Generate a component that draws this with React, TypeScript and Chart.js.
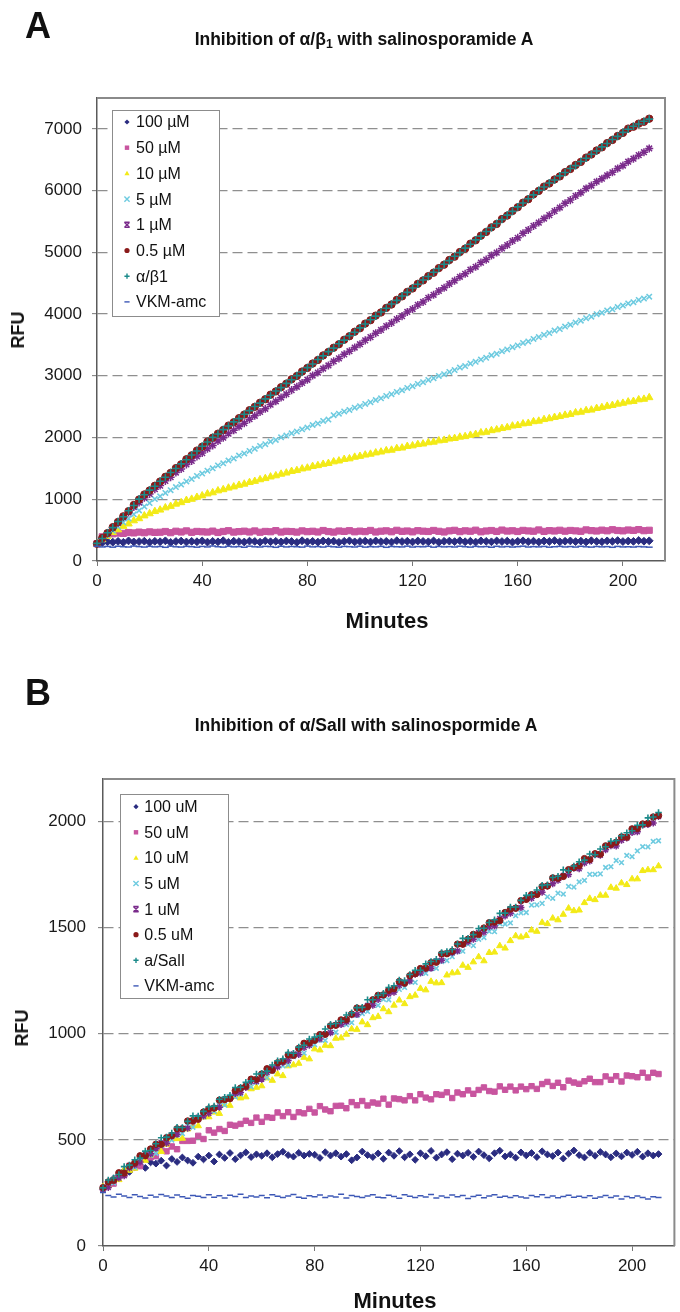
import React, { useEffect, useRef } from 'react';
import { Chart, registerables } from 'chart.js';

Chart.register(...registerables);

const FONT = '"Liberation Sans", Arial, Helvetica, sans-serif';

// ---------- shared x values (minutes) ----------
const MINUTES = [
  0, 2, 4, 6, 8, 10, 12, 14, 16, 18,
  20, 22, 24, 26, 28, 30, 32, 34, 36, 38,
  40, 42, 44, 46, 48, 50, 52, 54, 56, 58,
  60, 62, 64, 66, 68, 70, 72, 74, 76, 78,
  80, 82, 84, 86, 88, 90, 92, 94, 96, 98,
  100, 102, 104, 106, 108, 110, 112, 114, 116, 118,
  120, 122, 124, 126, 128, 130, 132, 134, 136, 138,
  140, 142, 144, 146, 148, 150, 152, 154, 156, 158,
  160, 162, 164, 166, 168, 170, 172, 174, 176, 178,
  180, 182, 184, 186, 188, 190, 192, 194, 196, 198,
  200, 202, 204, 206, 208, 210,
];
const X_TICKS = [0, 40, 80, 120, 160, 200];

// ---------- Panel A: alpha/beta1 ----------
const A_TITLE = 'Inhibition of α/β';
const A_LABELS = ['100 µM', '50 µM', '10 µM', '5 µM', '1 µM', '0.5 µM', 'α/β1', 'VKM-amc'];
const A_Y_TICKS = [0, 1000, 2000, 3000, 4000, 5000, 6000, 7000];

const A_100 = [
  280, 298, 311, 305, 318, 302, 326, 309, 315, 321,
  304, 319, 312, 327, 301, 316, 323, 308, 318, 312,
  325, 306, 317, 311, 329, 303, 320, 314, 308, 322,
  317, 305, 326, 312, 319, 309, 323, 316, 302, 328,
  311, 318, 306, 324, 315, 321, 303, 319, 327, 310,
  316, 322, 308, 325, 313, 318, 306, 329, 315, 320,
  309, 324, 317, 311, 326, 304, 319, 322, 314, 328,
  312, 320, 307, 326, 318, 311, 325, 315, 322, 306,
  319, 327, 313, 321, 308, 324, 316, 330, 311, 320,
  325, 314, 322, 309, 328, 317, 312, 326, 319, 331,
  315, 323, 318, 332, 320, 327,
];
const A_50 = [
  280, 392, 428, 441, 452, 447, 461, 455, 468, 458,
  472, 463, 466, 478, 459, 482, 470, 488, 465, 479,
  473, 469, 484, 462, 478, 491, 468, 476, 483, 470,
  487, 466, 479, 474, 492, 469, 481, 477, 468, 488,
  475, 482, 470, 494, 477, 468, 486, 479, 491, 473,
  484, 476, 495, 470, 483, 489, 474, 497, 480, 486,
  472, 491, 483, 478, 495, 481, 470, 488, 497, 476,
  489, 482, 499, 473, 486, 494, 479, 501, 485, 490,
  478, 496, 487, 482, 503, 479, 492, 486, 498, 483,
  495, 488, 481, 504, 492, 486, 500, 489, 507, 494,
  488, 502, 495, 509, 491, 498,
];
const A_10 = [
  280, 347, 402, 463, 507, 563, 602, 653, 687, 733,
  767, 803, 827, 863, 887, 923, 947, 983, 1002, 1033,
  1057, 1088, 1107, 1138, 1157, 1183, 1202, 1228, 1247, 1273,
  1292, 1318, 1337, 1363, 1382, 1408, 1427, 1453, 1467, 1493,
  1507, 1533, 1547, 1568, 1582, 1608, 1622, 1648, 1657, 1683,
  1697, 1718, 1732, 1753, 1767, 1788, 1797, 1823, 1832, 1858,
  1867, 1888, 1897, 1918, 1927, 1948, 1957, 1978, 1987, 2008,
  2017, 2038, 2052, 2078, 2087, 2113, 2127, 2148, 2162, 2188,
  2197, 2223, 2232, 2258, 2267, 2293, 2307, 2328, 2342, 2363,
  2377, 2403, 2412, 2438, 2447, 2473, 2487, 2508, 2522, 2543,
  2557, 2578, 2587, 2613, 2622, 2648,
];
const A_5 = [
  280, 352, 418, 492, 553, 627, 688, 757, 818, 882,
  938, 1003, 1048, 1103, 1147, 1198, 1238, 1288, 1327, 1378,
  1417, 1463, 1502, 1548, 1582, 1628, 1662, 1708, 1742, 1783,
  1817, 1863, 1892, 1934, 1962, 2003, 2032, 2068, 2097, 2133,
  2162, 2203, 2227, 2268, 2292, 2362, 2387, 2423, 2447, 2483,
  2507, 2544, 2572, 2608, 2636, 2673, 2702, 2738, 2766, 2803,
  2832, 2868, 2897, 2933, 2962, 2998, 3027, 3063, 3092, 3133,
  3157, 3198, 3227, 3263, 3292, 3333, 3357, 3398, 3427, 3463,
  3492, 3533, 3557, 3598, 3627, 3663, 3692, 3733, 3757, 3798,
  3827, 3863, 3892, 3933, 3957, 3998, 4022, 4058, 4077, 4113,
  4137, 4173, 4192, 4228, 4252, 4282,
];
const A_1 = [
  280, 368, 447, 538, 616, 709, 786, 874, 947, 1024,
  1087, 1163, 1222, 1298, 1357, 1433, 1492, 1564, 1622, 1694,
  1748, 1818, 1872, 1943, 1997, 2064, 2117, 2178, 2232, 2298,
  2352, 2414, 2466, 2534, 2587, 2648, 2702, 2768, 2822, 2884,
  2936, 3004, 3052, 3118, 3167, 3234, 3282, 3348, 3398, 3458,
  3512, 3574, 3626, 3690, 3742, 3804, 3857, 3918, 3967, 4034,
  4082, 4148, 4196, 4263, 4312, 4374, 4426, 4488, 4542, 4604,
  4652, 4718, 4766, 4834, 4882, 4948, 4996, 5064, 5118, 5184,
  5236, 5308, 5362, 5428, 5482, 5548, 5602, 5668, 5726, 5794,
  5846, 5914, 5966, 6034, 6082, 6144, 6192, 6248, 6296, 6358,
  6406, 6468, 6516, 6574, 6622, 6682,
];
const A_05 = [
  280, 372, 452, 548, 633, 724, 808, 907, 996, 1078,
  1142, 1219, 1287, 1364, 1427, 1505, 1566, 1648, 1712, 1789,
  1852, 1934, 1997, 2063, 2122, 2194, 2247, 2314, 2372, 2443,
  2497, 2564, 2621, 2694, 2747, 2815, 2872, 2944, 2996, 3069,
  3127, 3199, 3256, 3330, 3386, 3455, 3511, 3584, 3641, 3714,
  3770, 3846, 3900, 3975, 4026, 4100, 4155, 4230, 4286, 4360,
  4415, 4490, 4545, 4615, 4670, 4745, 4800, 4876, 4930, 5005,
  5060, 5140, 5195, 5270, 5330, 5405, 5460, 5540, 5595, 5670,
  5730, 5805, 5860, 5940, 5995, 6065, 6115, 6180, 6230, 6300,
  6350, 6415, 6465, 6535, 6585, 6650, 6700, 6770, 6820, 6885,
  6935, 7005, 7035, 7085, 7115, 7165,
];
const A_AB = [
  285, 365, 458, 540, 640, 718, 815, 900, 1003, 1072,
  1148, 1212, 1293, 1357, 1433, 1498, 1573, 1641, 1718, 1782,
  1858, 1927, 2003, 2057, 2128, 2187, 2253, 2307, 2378, 2436,
  2503, 2557, 2627, 2686, 2753, 2808, 2878, 2937, 3003, 3062,
  3133, 3192, 3263, 3322, 3392, 3448, 3518, 3578, 3648, 3706,
  3777, 3838, 3908, 3967, 4033, 4094, 4162, 4221, 4292, 4352,
  4422, 4482, 4552, 4608, 4678, 4737, 4807, 4865, 4937, 4995,
  5068, 5132, 5202, 5262, 5337, 5398, 5467, 5532, 5602, 5664,
  5737, 5798, 5867, 5930, 6003, 6058, 6122, 6172, 6238, 6292,
  6358, 6405, 6472, 6525, 6588, 6642, 6708, 6762, 6828, 6878,
  6943, 6995, 7043, 7078, 7123, 7158,
];
const A_VKM = [
  240, 228, 236, 224, 239, 231, 227, 242, 233, 226,
  238, 229, 235, 222, 241, 230, 226, 237, 232, 224,
  236, 228, 243, 231, 225, 238, 229, 234, 223, 240,
  230, 227, 237, 233, 222, 239, 228, 235, 231, 225,
  241, 229, 234, 226, 238, 230, 224, 236, 232, 227,
  239, 225, 233, 229, 237, 222, 235, 231, 228, 240,
  226, 234, 230, 238, 224, 236, 229, 233, 227, 239,
  231, 225, 237, 230, 234, 223, 238, 228, 235, 226,
  232, 240, 227, 233, 229, 236, 224, 231, 237, 228,
  234, 226, 238, 230, 225, 235, 229, 233, 222, 236,
  228, 231, 226, 234, 229, 224,
];

// ---------- Panel B: alpha/SalI ----------
const B_TITLE = 'Inhibition of α/SalI with salinospormide A';
const B_LABELS = ['100 uM', '50 uM', '10 uM', '5 uM', '1 uM', '0.5 uM', 'a/SalI', 'VKM-amc'];
const B_Y_TICKS = [0, 500, 1000, 1500, 2000];

const B_100 = [
  268, 292, 318, 331, 356, 349, 372, 381, 368, 394,
  388, 402, 379, 410, 396, 417, 403, 392, 421, 408,
  426, 398, 431, 415, 438, 409, 427, 441, 419, 432,
  425, 437, 418, 433, 444, 428, 421, 439, 426, 434,
  430, 415, 442, 426, 437, 421, 433, 404, 417, 445,
  428, 419, 436, 411, 440, 425, 447, 418, 432, 406,
  437, 423, 448, 416, 431, 442, 409, 435, 426, 439,
  420, 445, 428, 413, 437, 449, 422, 431, 416, 441,
  427, 438, 419, 446, 431, 424, 440, 412, 435, 450,
  428, 417, 439, 425, 443, 431, 418, 436, 422, 440,
  429, 444, 421, 437, 426, 433,
];
const B_50 = [
  273, 297, 294, 337, 335, 378, 371, 376, 411, 418,
  423, 458, 446, 469, 456, 495, 495, 496, 519, 504,
  545, 534, 551, 542, 571, 567, 575, 590, 580, 605,
  585, 607, 604, 629, 612, 630, 608, 630, 625, 646,
  629, 659, 643, 635, 660, 661, 649, 678, 663, 683,
  662, 676, 671, 694, 666, 695, 692, 686, 706, 686,
  715, 699, 691, 715, 712, 724, 697, 723, 715, 733,
  717, 735, 747, 730, 727, 752, 736, 751, 733, 751,
  739, 753, 740, 763, 773, 754, 769, 748, 779, 770,
  764, 776, 788, 772, 772, 799, 783, 800, 775, 803,
  800, 795, 816, 794, 816, 810,
];
const B_10 = [
  278, 284, 314, 312, 360, 356, 366, 408, 403, 428,
  453, 445, 479, 506, 505, 507, 551, 566, 566, 607,
  608, 630, 624, 666, 662, 704, 697, 702, 740, 747,
  754, 791, 780, 810, 802, 848, 853, 860, 888, 881,
  928, 923, 945, 943, 978, 980, 997, 1022, 1020, 1055,
  1042, 1075, 1081, 1117, 1103, 1134, 1158, 1141, 1174, 1181,
  1213, 1206, 1246, 1239, 1240, 1276, 1286, 1289, 1322, 1312,
  1338, 1362, 1343, 1382, 1384, 1414, 1403, 1438, 1461, 1455,
  1462, 1488, 1482, 1524, 1518, 1544, 1536, 1562, 1591, 1579,
  1582, 1617, 1637, 1631, 1652, 1652, 1689, 1685, 1710, 1702,
  1729, 1729, 1768, 1772, 1772, 1790,
];
const B_5 = [
  272, 297, 298, 341, 342, 371, 371, 399, 431, 428,
  437, 473, 495, 499, 523, 530, 567, 559, 597, 608,
  634, 634, 662, 664, 704, 703, 715, 752, 750, 772,
  796, 792, 823, 846, 849, 853, 892, 906, 909, 946,
  949, 970, 969, 1007, 1007, 1046, 1043, 1052, 1086, 1095,
  1105, 1139, 1134, 1162, 1160, 1200, 1209, 1218, 1245, 1242,
  1284, 1285, 1306, 1308, 1340, 1345, 1363, 1387, 1389, 1422,
  1415, 1445, 1453, 1482, 1481, 1519, 1517, 1522, 1556, 1569,
  1571, 1606, 1607, 1614, 1645, 1638, 1662, 1658, 1694, 1691,
  1715, 1722, 1751, 1751, 1753, 1783, 1787, 1816, 1806, 1840,
  1834, 1861, 1881, 1880, 1906, 1909,
];
const B_1 = [
  266, 276, 312, 320, 331, 367, 382, 396, 429, 434,
  461, 487, 484, 517, 527, 553, 555, 585, 607, 612,
  625, 649, 654, 690, 694, 719, 723, 747, 775, 776,
  786, 817, 838, 843, 865, 874, 905, 902, 935, 946,
  970, 975, 999, 1005, 1041, 1044, 1057, 1089, 1091, 1112,
  1133, 1134, 1161, 1183, 1188, 1195, 1228, 1243, 1248, 1280,
  1286, 1306, 1309, 1342, 1346, 1379, 1381, 1390, 1421, 1433,
  1445, 1477, 1478, 1504, 1507, 1543, 1555, 1567, 1592, 1595,
  1633, 1638, 1660, 1666, 1696, 1706, 1723, 1745, 1750, 1779,
  1777, 1804, 1814, 1843, 1841, 1867, 1885, 1884, 1911, 1922,
  1948, 1951, 1983, 1986, 1993, 2023,
];
const B_05 = [
  275, 302, 309, 345, 344, 377, 391, 425, 425, 457,
  479, 479, 510, 521, 552, 552, 589, 591, 597, 631,
  646, 650, 687, 690, 695, 732, 743, 753, 786, 785,
  810, 835, 828, 863, 871, 900, 898, 931, 955, 957,
  969, 996, 997, 1037, 1040, 1065, 1067, 1092, 1121, 1118,
  1127, 1160, 1181, 1183, 1205, 1212, 1246, 1238, 1273, 1283,
  1307, 1309, 1335, 1337, 1376, 1377, 1388, 1422, 1422, 1445,
  1468, 1468, 1498, 1523, 1526, 1533, 1571, 1587, 1591, 1627,
  1633, 1655, 1656, 1693, 1696, 1734, 1733, 1741, 1773, 1783,
  1792, 1825, 1821, 1848, 1846, 1885, 1892, 1902, 1927, 1926,
  1965, 1967, 1988, 1991, 2021, 2028,
];
const B_AS = [
  274, 311, 320, 337, 374, 381, 406, 414, 447, 450,
  482, 510, 513, 532, 559, 558, 587, 613, 612, 634,
  656, 659, 691, 700, 710, 747, 748, 771, 778, 810,
  813, 824, 853, 873, 882, 911, 908, 937, 946, 975,
  984, 990, 1022, 1045, 1048, 1060, 1088, 1099, 1123, 1124,
  1160, 1160, 1181, 1190, 1218, 1226, 1253, 1250, 1279, 1299,
  1299, 1329, 1340, 1351, 1382, 1387, 1397, 1423, 1449, 1449,
  1467, 1496, 1497, 1524, 1537, 1567, 1568, 1597, 1597, 1628,
  1652, 1655, 1677, 1699, 1702, 1736, 1742, 1772, 1768, 1790,
  1810, 1818, 1847, 1843, 1870, 1881, 1907, 1910, 1933, 1947,
  1956, 1982, 1984, 2017, 2021, 2042,
];
const B_VKM = [
  252, 238, 231, 244, 236, 229, 241, 233, 226, 239,
  231, 243, 235, 228, 240, 232, 225, 238, 234, 229,
  242, 230, 237, 226, 239, 233, 244, 228, 235, 231,
  238, 227, 241, 234, 229, 236, 243, 230, 225, 237,
  232, 240, 228, 235, 231, 244, 226, 238, 233, 229,
  236, 242, 230, 227, 239, 233, 225, 241, 234, 228,
  237, 231, 243, 226, 235, 229, 240, 232, 238, 224,
  233, 239, 227, 236, 242, 230, 234, 228, 237, 231,
  226, 238, 232, 241, 229, 235, 227, 233, 239, 230,
  234, 228, 237, 225, 231, 238, 229, 236, 222, 233,
  227, 235, 229, 221, 232, 228,
];

// ---------- marker styles (same series order in both panels) ----------
const STYLES = [
  { color: '#2A2C80', pointStyle: 'rectRot', radius: 3.4, bw: 1 },
  { color: '#C8559F', pointStyle: 'rect', radius: 3.8, bw: 1 },
  { color: '#F3EA17', pointStyle: 'triangle', radius: 3.7, bw: 1 },
  { color: '#6ECBE0', pointStyle: 'crossRot', radius: 3.3, bw: 1.6 },
  { color: '#7A2B8B', pointStyle: 'star', radius: 3.5, bw: 1.5 },
  { color: '#8A1A1A', pointStyle: 'circle', radius: 3.2, bw: 1 },
  { color: '#1B8A8A', pointStyle: 'cross', radius: 3.3, bw: 1.6 },
  { color: '#3D58B6', pointStyle: 'line', radius: 3, bw: 1.5 },
];

function drawMarker(ctx: CanvasRenderingContext2D, style: string, x: number, y: number, r: number, color: string) {
  ctx.save();
  ctx.fillStyle = color;
  ctx.strokeStyle = color;
  ctx.lineWidth = 1.4;
  ctx.beginPath();
  switch (style) {
    case 'rectRot':
      ctx.moveTo(x, y - r); ctx.lineTo(x + r, y); ctx.lineTo(x, y + r); ctx.lineTo(x - r, y); ctx.closePath(); ctx.fill();
      break;
    case 'rect':
      ctx.rect(x - r * 0.85, y - r * 0.85, r * 1.7, r * 1.7); ctx.fill();
      break;
    case 'triangle':
      ctx.moveTo(x, y - r); ctx.lineTo(x + r, y + r * 0.75); ctx.lineTo(x - r, y + r * 0.75); ctx.closePath(); ctx.fill();
      break;
    case 'circle':
      ctx.arc(x, y, r, 0, Math.PI * 2); ctx.fill();
      break;
    case 'crossRot':
      ctx.moveTo(x - r, y - r); ctx.lineTo(x + r, y + r); ctx.moveTo(x + r, y - r); ctx.lineTo(x - r, y + r); ctx.stroke();
      break;
    case 'star':
      ctx.moveTo(x - r, y - r); ctx.lineTo(x + r, y + r); ctx.moveTo(x + r, y - r); ctx.lineTo(x - r, y + r);
      ctx.moveTo(x - r, y - r); ctx.lineTo(x + r, y - r); ctx.moveTo(x - r, y + r); ctx.lineTo(x + r, y + r); ctx.stroke();
      break;
    case 'cross':
      ctx.moveTo(x - r, y); ctx.lineTo(x + r, y); ctx.moveTo(x, y - r); ctx.lineTo(x, y + r); ctx.stroke();
      break;
    default:
      ctx.moveTo(x - r, y); ctx.lineTo(x + r, y); ctx.stroke();
  }
  ctx.restore();
}

type LegendSpec = { dx: number; dy: number; w: number; h: number; first: number; gap: number; mx: number; tx: number };

function makeFramePlugin(drawRight: boolean) {
  return {
    id: 'frame',
    beforeDatasetsDraw(chart: any) {
      const { ctx, chartArea } = chart;
      ctx.save();
      ctx.strokeStyle = '#8a8a8a';
      ctx.lineWidth = 2;
      ctx.beginPath();
      ctx.moveTo(chartArea.left, chartArea.top);
      ctx.lineTo(chartArea.right, chartArea.top);
      if (drawRight) ctx.lineTo(chartArea.right, chartArea.bottom);
      ctx.stroke();
      ctx.restore();
    },
  };
}

function makeLegendPlugin(spec: LegendSpec) {
  return {
    id: 'boxLegend',
    afterDatasetsDraw(chart: any) {
      const { ctx, chartArea } = chart;
      const x0 = Math.round(chartArea.left + spec.dx);
      const y0 = Math.round(chartArea.top + spec.dy);
      ctx.save();
      ctx.fillStyle = '#ffffff';
      ctx.fillRect(x0, y0, spec.w, spec.h);
      ctx.strokeStyle = '#8c8c8c';
      ctx.lineWidth = 1;
      ctx.strokeRect(x0 + 0.5, y0 + 0.5, spec.w, spec.h);
      ctx.font = `16px ${FONT}`;
      ctx.textBaseline = 'middle';
      ctx.textAlign = 'left';
      chart.data.datasets.forEach((ds: any, i: number) => {
        const cy = y0 + spec.first + i * spec.gap;
        drawMarker(ctx, STYLES[i].pointStyle, x0 + spec.mx, cy, 2.6, STYLES[i].color);
        ctx.fillStyle = '#111111';
        ctx.fillText(ds.label, x0 + spec.tx, cy + 1);
      });
      ctx.restore();
    },
  };
}

type PanelProps = {
  series: number[][];
  labels: string[];
  yMax: number;
  yTicks: number[];
  width: number;
  height: number;
  padding: { left: number; top: number; right: number; bottom: number };
  yAxisWidth: number;
  yTickPad: number;
  markerScale: number;
  legend: LegendSpec;
  drawRight: boolean;
};

function Panel(p: PanelProps) {
  const ref = useRef<HTMLCanvasElement>(null);
  useEffect(() => {
    if (!ref.current) return;
    const datasets = p.series.map((vals, i) => ({
      label: p.labels[i],
      data: vals.map((v, j) => ({ x: MINUTES[j], y: v })),
      showLine: false,
      pointStyle: STYLES[i].pointStyle,
      pointRadius: STYLES[i].radius * p.markerScale,
      pointBorderWidth: STYLES[i].bw,
      pointBackgroundColor: STYLES[i].color,
      pointBorderColor: STYLES[i].color,
      order: 10 - i,
      clip: 6,
    }));
    const tickFont = { family: FONT, size: 17 };
    const plain = (v: any) => String(v);
    const chart = new Chart(ref.current, {
      type: 'scatter',
      data: { datasets } as any,
      options: {
        animation: false,
        responsive: false,
        devicePixelRatio: 1,
        events: [],
        layout: { padding: p.padding },
        plugins: { legend: { display: false }, tooltip: { enabled: false }, title: { display: false } },
        scales: {
          x: {
            type: 'linear',
            min: 0,
            max: 216,
            afterBuildTicks: (s: any) => { s.ticks = X_TICKS.map((v) => ({ value: v })); },
            afterFit: (s: any) => { s.height = 40; },
            ticks: { color: '#1a1a1a', font: tickFont, padding: 5, maxRotation: 0, autoSkip: false, callback: plain },
            grid: { drawOnChartArea: false, drawTicks: true, tickLength: 5, tickColor: '#777777', tickWidth: 1 },
            border: { display: true, color: '#5a5a5a', width: 1.5 },
          },
          y: {
            type: 'linear',
            min: 0,
            max: p.yMax,
            afterBuildTicks: (s: any) => { s.ticks = p.yTicks.map((v) => ({ value: v })); },
            afterFit: (s: any) => { s.width = p.yAxisWidth; },
            ticks: { color: '#1a1a1a', font: tickFont, padding: p.yTickPad, callback: plain },
            grid: {
              color: (c: any) => (c.tick && c.tick.value === 0 ? 'rgba(0,0,0,0)' : '#8f8f8f'),
              lineWidth: 1.3,
              drawTicks: true,
              tickLength: 5,
              tickColor: '#777777',
              tickWidth: 1,
              tickBorderDash: [],
            },
            border: { display: true, color: '#5a5a5a', width: 1.5, dash: [10, 5] },
          },
        },
      } as any,
      plugins: [makeFramePlugin(p.drawRight), makeLegendPlugin(p.legend)],
    });
    return () => chart.destroy();
  }, []);
  return <canvas ref={ref} width={p.width} height={p.height} style={{ width: p.width, height: p.height, display: 'block' }} />;
}

const abs = (extra: React.CSSProperties): React.CSSProperties => ({
  position: 'absolute',
  whiteSpace: 'nowrap',
  lineHeight: 1,
  color: '#111',
  fontFamily: FONT,
  ...extra,
});

export default function App() {
  return (
    <div style={{ position: 'absolute', left: 0, top: 0, width: 680, height: 1312, overflow: 'hidden', background: '#fff' }}>
      {/* Panel A */}
      <div style={{ position: 'absolute', left: 0, top: 0 }}>
        <Panel
          series={[A_100, A_50, A_10, A_5, A_1, A_05, A_AB, A_VKM]}
          labels={A_LABELS}
          yMax={7500}
          yTicks={A_Y_TICKS}
          width={680}
          height={650}
          padding={{ left: 8, top: 98, right: 15, bottom: 49 }}
          yAxisWidth={89}
          yTickPad={10}
          markerScale={1.15}
          legend={{ dx: 15, dy: 12, w: 107, h: 206, first: 12, gap: 25.7, mx: 15, tx: 24 }}
          drawRight={true}
        />
      </div>
      <div style={abs({ left: 25, top: 7.5, fontSize: 36, fontWeight: 'bold' })}>A</div>
      <div style={abs({ left: 364, top: 31, fontSize: 17.5, fontWeight: 'bold', transform: 'translateX(-50%)' })}>
        {A_TITLE}
        <sub style={{ fontSize: '0.7em', lineHeight: 0, verticalAlign: '-0.25em' }}>1</sub>
        {' with salinosporamide A'}
      </div>
      <div style={abs({ left: 18, top: 330, fontSize: 18, fontWeight: 'bold', transform: 'translate(-50%, -50%) rotate(-90deg)' })}>RFU</div>
      <div style={abs({ left: 387, top: 609.5, fontSize: 22, fontWeight: 'bold', transform: 'translateX(-50%)' })}>Minutes</div>

      {/* Panel B */}
      <div style={{ position: 'absolute', left: 0, top: 650 }}>
        <Panel
          series={[B_100, B_50, B_10, B_5, B_1, B_05, B_AS, B_VKM]}
          labels={B_LABELS}
          yMax={2200}
          yTicks={B_Y_TICKS}
          width={680}
          height={662}
          padding={{ left: 8, top: 129, right: 1, bottom: 26 }}
          yAxisWidth={95}
          yTickPad={12}
          markerScale={1}
          legend={{ dx: 17, dy: 15, w: 108, h: 204, first: 12.7, gap: 25.6, mx: 16, tx: 24.3 }}
          drawRight={true}
        />
      </div>
      <div style={abs({ left: 25, top: 674.5, fontSize: 36, fontWeight: 'bold' })}>B</div>
      <div style={abs({ left: 366, top: 717, fontSize: 17.5, fontWeight: 'bold', transform: 'translateX(-50%)' })}>{B_TITLE}</div>
      <div style={abs({ left: 22, top: 1028, fontSize: 18, fontWeight: 'bold', transform: 'translate(-50%, -50%) rotate(-90deg)' })}>RFU</div>
      <div style={abs({ left: 395, top: 1289.5, fontSize: 22, fontWeight: 'bold', transform: 'translateX(-50%)' })}>Minutes</div>
    </div>
  );
}
